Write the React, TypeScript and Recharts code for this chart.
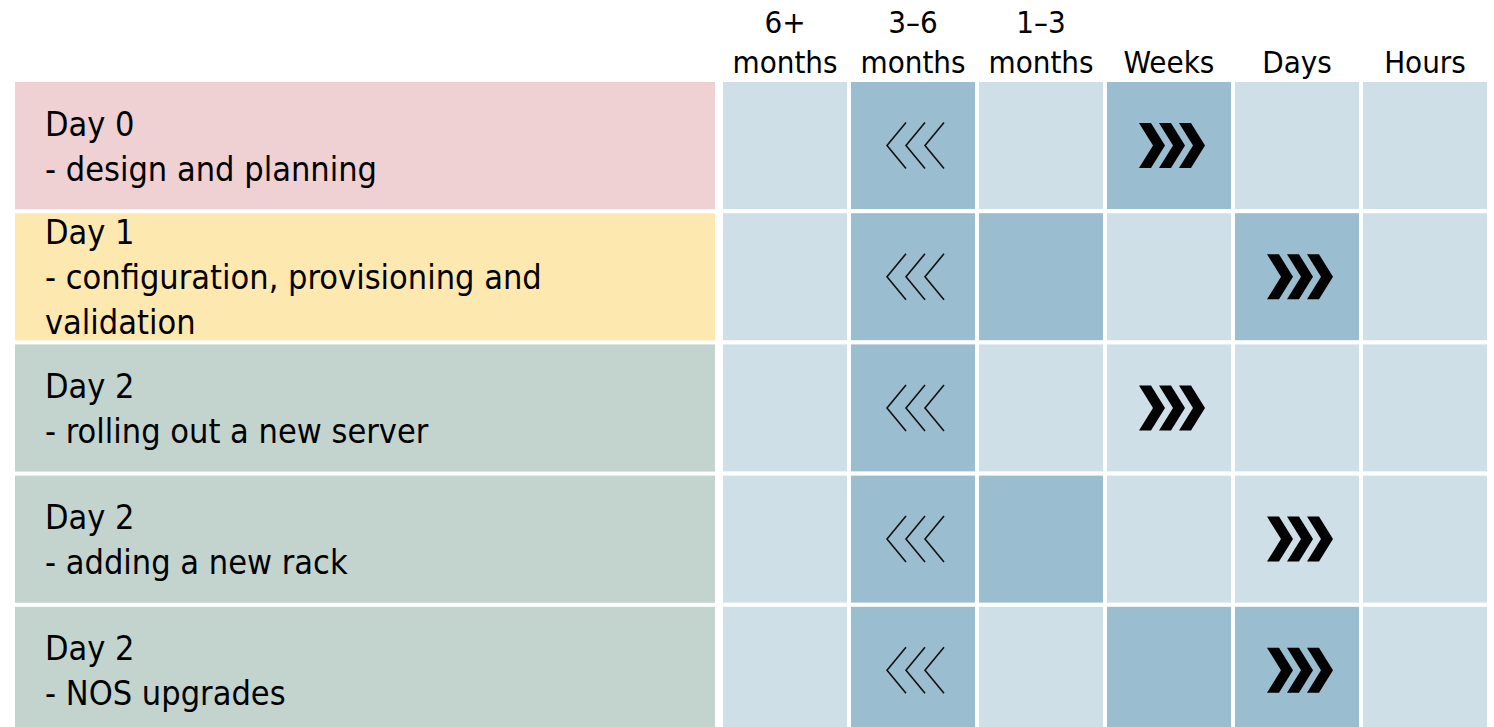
import React from "react";
import { ComposedChart, Bar, XAxis, YAxis } from "recharts";

// rows: lifecycle stage + task
const stages = ["Day 0", "Day 1", "Day 2", "Day 2", "Day 2"];
const taskLines = [
  ["- design and planning"],
  ["- configuration, provisioning and", "validation"],
  ["- rolling out a new server"],
  ["- adding a new rack"],
  ["- NOS upgrades"],
];

// columns: time horizon
const horizons = [
  ["6+", "months"],
  ["3–6", "months"],
  ["1–3", "months"],
  ["Weeks"],
  ["Days"],
  ["Hours"],
];

// 1 = dark cell
const shaded = [
  [0, 1, 0, 1, 0, 0],
  [0, 1, 1, 0, 1, 0],
  [0, 1, 0, 0, 0, 0],
  [0, 1, 1, 0, 0, 0],
  [0, 1, 0, 1, 1, 0],
];
const todayCol = [1, 1, 1, 1, 1]; // thin <<<
const targetCol = [3, 4, 3, 4, 4]; // bold >>>

const stageColors = ["#EFD0D3", "#FDE9B0", "#C3D4CF", "#C3D4CF", "#C3D4CF"];
const LIGHT = "#CFDFE8";
const DARK = "#9BBDD0";
const FONT = "'DejaVu Sans Condensed', 'DejaVu Sans', sans-serif";

const W = 1494;
const H = 736;
const TOP = 80;
const AXIS_W = 721;
const ROW_H = (H - TOP) / stages.length;

const rows = stages.map((_, i) => {
  const r: any = { row: i };
  horizons.forEach((_, j) => (r[`c${j}`] = 1));
  return r;
});

function BackChevrons({ cx, cy }: { cx: number; cy: number }) {
  return (
    <g fill="none" stroke="#111" strokeWidth={1.6}>
      {[0, 1, 2].map((k) => {
        const x0 = cx - 26 + 19 * k;
        return <polyline key={k} points={`${x0 + 19},${cy - 23} ${x0},${cy} ${x0 + 19},${cy + 23}`} />;
      })}
    </g>
  );
}

function FwdChevrons({ cx, cy }: { cx: number; cy: number }) {
  const t = 12, a = 14, h = 22.5;
  return (
    <g fill="#000">
      {[0, 1, 2].map((k) => {
        const x0 = cx - 30 + 20 * k;
        const pts = [
          [x0, cy - h], [x0 + t, cy - h], [x0 + t + a, cy],
          [x0 + t, cy + h], [x0, cy + h], [x0 + a, cy],
        ].map((p) => p.join(",")).join(" ");
        return <polygon key={k} points={pts} />;
      })}
    </g>
  );
}

const cellShape = (col: number) => (p: any) => {
  const r = p.payload.row;
  const { x, y, width, height } = p;
  const cx = x + width / 2;
  const cy = y + height / 2;
  return (
    <g>
      <rect x={x + 2} y={y + 2} width={width - 4} height={height - 4} fill={shaded[r][col] ? DARK : LIGHT} />
      {todayCol[r] === col && <BackChevrons cx={cx} cy={cy} />}
      {targetCol[r] === col && <FwdChevrons cx={cx} cy={cy} />}
    </g>
  );
};

function StageTick(p: any) {
  const i = p.payload.value;
  const cy = p.y;
  const lines = [stages[i], ...taskLines[i]];
  const off = (lines.length - 2) / 2;
  return (
    <g>
      <rect x={15} y={cy - ROW_H / 2 + 2} width={700} height={ROW_H - 4} fill={stageColors[i]} />
      {lines.map((l, k) => (
        <text key={k} x={45} y={cy - 10 + 45 * (k - off)} fontSize={34} fontFamily={FONT} fill="#000">
          {l}
        </text>
      ))}
    </g>
  );
}

function HorizonTick(p: any) {
  const idx = Math.floor(p.payload.value);
  const lines = horizons[idx];
  return (
    <g>
      {lines.map((l, k) => (
        <text
          key={k}
          x={p.x}
          y={73 - 40 * (lines.length - 1 - k)}
          textAnchor="middle"
          fontSize={31}
          fontFamily={FONT}
          fill="#000"
        >
          {l}
        </text>
      ))}
    </g>
  );
}

export default function App() {
  return (
    <div style={{ position: "absolute", left: 0, top: 0, width: W, height: 727, overflow: "hidden", background: "#fff" }}>
      <ComposedChart
        width={W}
        height={H}
        data={rows}
        layout="vertical"
        barCategoryGap={0}
        margin={{ top: 0, right: 5, bottom: 0, left: 0 }}
      >
        <XAxis
          type="number"
          orientation="top"
          domain={[0, horizons.length]}
          ticks={horizons.map((_, j) => j + 0.5)}
          height={TOP}
          axisLine={false}
          tickLine={false}
          tick={<HorizonTick />}
        />
        <YAxis
          type="category"
          dataKey="row"
          width={AXIS_W}
          axisLine={false}
          tickLine={false}
          interval={0}
          tick={<StageTick />}
        />
        {horizons.map((_, j) => (
          <Bar key={j} dataKey={`c${j}`} stackId="grid" isAnimationActive={false} shape={cellShape(j)} />
        ))}
      </ComposedChart>
    </div>
  );
}
